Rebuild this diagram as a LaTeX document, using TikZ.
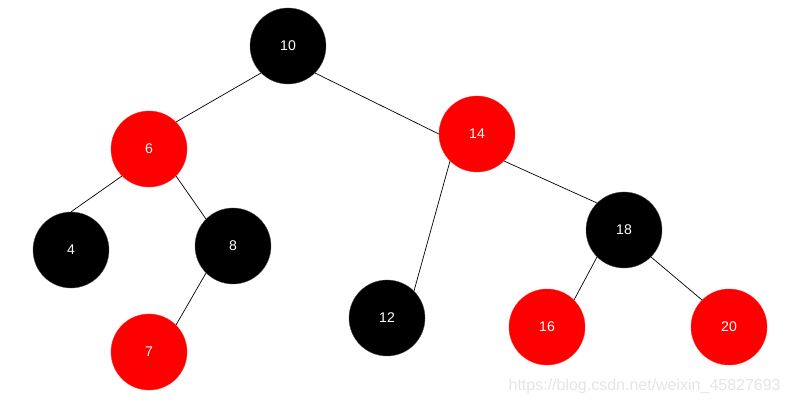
\documentclass[tikz,border=0pt]{standalone}
\usepackage{fontspec}
\setmainfont{Liberation Sans}
\usepackage{tikz}

\tikzset{
    rbnode/.style={circle, minimum size=1.52cm, inner sep=0pt, text=white, font=\fontsize{8}{9}\selectfont},
    blacknode/.style={rbnode, fill=black, draw=black!70, very thin},
    rednode/.style={rbnode, fill=red, draw=red!85!white, very thin},
    link/.style={black, thin}
}

\begin{document}
\begin{tikzpicture}[x=0.02cm, y=-0.02cm]
    \useasboundingbox (0,0) rectangle (790,405);

    % root
    \node[blacknode] (n10) at (288,46) {10};
    % level 1
    \node[rednode] (n6) at (149,149) {6};
    \node[rednode] (n14) at (477,134) {14};
    % level 2
    \node[blacknode] (n4) at (71,250) {4};
    \node[blacknode] (n8) at (233,246) {8};
    \node[blacknode] (n18) at (624,230) {18};
    % level 3
    \node[rednode] (n7) at (149,352) {7};
    \node[blacknode] (n12) at (387,318) {12};
    \node[rednode] (n16) at (547,327) {16};
    \node[rednode] (n20) at (729,327) {20};

    % links
    \draw[link] (n10.south west) -- (n6.north east);
    \draw[link] (n10.south east) -- (n14.west);
    \draw[link] (n6.south west) -- (n4.north);
    \draw[link] (n6.south east) -- (n8.north west);
    \draw[link] (n8.south west) -- (n7.north east);
    \draw[link] (n14.south west) -- (n12.north east);
    \draw[link] (n14.south east) -- (n18.north west);
    \draw[link] (n18.south west) -- (n16.north east);
    \draw[link] (n18.south east) -- (n20.north west);

    % watermark
    \node[anchor=east, text=black!10, font=\fontsize{9.1}{10}\selectfont, inner sep=0pt] (mark) at (781,386) {https://blog.csdn.net/weixin\_45827693};
\end{tikzpicture}
\end{document}
